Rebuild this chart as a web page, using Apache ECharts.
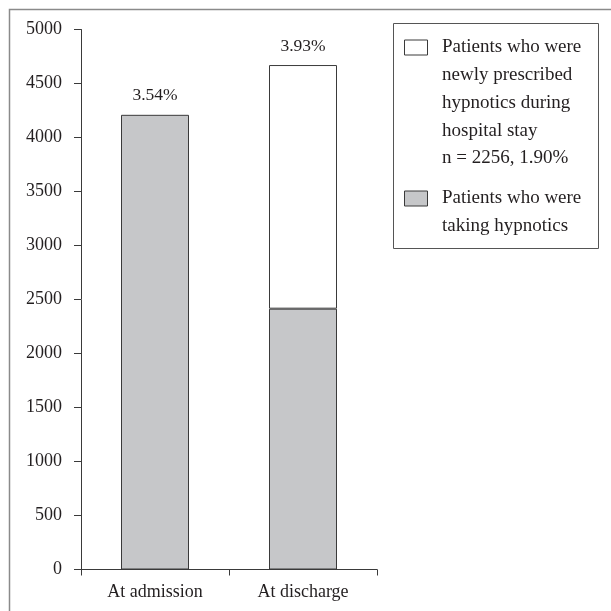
<!DOCTYPE html>
<html>
<head>
<meta charset="utf-8">
<script src="https://cdn.jsdelivr.net/npm/echarts@6/dist/echarts.min.js"></script>
<style>html,body{margin:0;padding:0;background:#fff}#c{width:611px;height:611px}</style>
</head>
<body>
<div id="c"></div>
<script>
var categories = ['At admission', 'At discharge'];
var takingValues = [4210, 2415];
var newValues = ['-', 2256];
var topLabels = ['3.54%', '3.93%'];
var seriesNames = ['Patients who were\nnewly prescribed\nhypnotics during\nhospital stay\nn = 2256, 1.90%',
                   'Patients who were\ntaking hypnotics'];
var yTicks = [0, 500, 1000, 1500, 2000, 2500, 3000, 3500, 4000, 4500, 5000];

var FONT = '"Liberation Serif", "Times New Roman", serif';
var TXT = '#231f20';
var GRAY = '#c6c7c9';
var EDGE = '#3a3a3a';

function labelFor(i) {
  return { show: true, position: 'top', distance: 10, formatter: topLabels[i],
           fontFamily: FONT, fontSize: 17.5, color: TXT };
}
var takingData = takingValues.map(function (v, i) {
  return i === 0 ? { value: v, label: labelFor(0) } : v;
});
var newData = newValues.map(function (v, i) {
  return i === 1 ? { value: v, label: labelFor(1) } : v;
});

// Align the first text line with the icon: pad the block with blank lines above
function legendText(name) {
  var lines = name.split('\n');
  var out = [];
  for (var k = 1; k < lines.length; k++) out.push(' ');
  lines.forEach(function (l) { out.push('  ' + l); });
  return out.join('\n');
}

var LH = 27.7;
var chart = echarts.init(document.getElementById('c'));
chart.setOption({
  animation: false,
  grid: { left: 81, right: 234, top: 29.5, bottom: 41.5 },
  xAxis: {
    type: 'category', data: categories,
    axisLine: { lineStyle: { color: EDGE, width: 1 } },
    axisTick: { show: true, length: 6, lineStyle: { color: EDGE } },
    axisLabel: { fontFamily: FONT, fontSize: 18, color: TXT, margin: 14 }
  },
  yAxis: {
    type: 'value', min: 0, max: yTicks[yTicks.length - 1], interval: 500,
    splitLine: { show: false },
    axisLine: { show: true, lineStyle: { color: EDGE, width: 1 } },
    axisTick: { show: true, length: 7, lineStyle: { color: EDGE } },
    axisLabel: { fontFamily: FONT, fontSize: 18, color: TXT, margin: 19,
                 formatter: function (v) { return String(v); } }
  },
  legend: [
    {
      left: 404, top: 40 - (9 * LH - 15) / 2, padding: 0,
      orient: 'vertical', itemWidth: 23, itemHeight: 15, selectedMode: false,
      formatter: legendText,
      data: [{ name: seriesNames[0], icon: 'rect',
               itemStyle: { color: '#fff', borderColor: EDGE, borderWidth: 1 } }],
      textStyle: { fontFamily: FONT, fontSize: 19, color: TXT, lineHeight: LH }
    },
    {
      left: 404, top: 191 - (3 * LH - 15) / 2, padding: 0,
      orient: 'vertical', itemWidth: 23, itemHeight: 15, selectedMode: false,
      formatter: legendText,
      data: [{ name: seriesNames[1], icon: 'rect',
               itemStyle: { color: GRAY, borderColor: EDGE, borderWidth: 1 } }],
      textStyle: { fontFamily: FONT, fontSize: 19, color: TXT, lineHeight: LH }
    }
  ],
  graphic: [
    { type: 'rect', silent: true, z: -1,
      shape: { x: 9.5, y: 9.5, width: 800, height: 800 },
      style: { fill: null, stroke: '#8a8a8a', lineWidth: 1.5 } },
    { type: 'rect', silent: true,
      shape: { x: 393.5, y: 23.5, width: 205, height: 225 },
      style: { fill: null, stroke: '#555', lineWidth: 1 } }
  ],
  series: [
    { name: seriesNames[1], type: 'bar', stack: 'total', barWidth: 68,
      data: takingData,
      itemStyle: { color: GRAY, borderColor: EDGE, borderWidth: 1 } },
    { name: seriesNames[0], type: 'bar', stack: 'total', barWidth: 68,
      data: newData,
      itemStyle: { color: '#fff', borderColor: EDGE, borderWidth: 1 } }
  ]
});
</script>
</body>
</html>
